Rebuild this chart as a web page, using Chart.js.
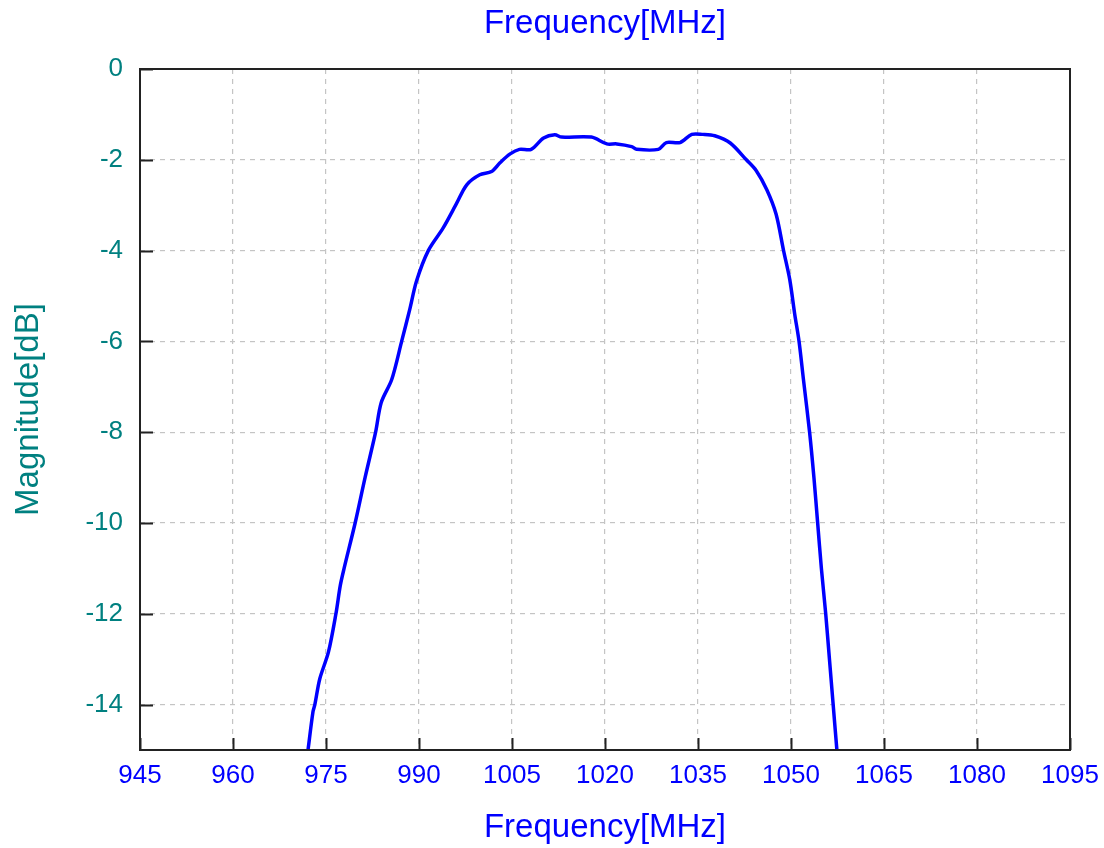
<!DOCTYPE html>
<html>
<head>
<meta charset="utf-8">
<title>Frequency response</title>
<script src="https://cdn.jsdelivr.net/npm/chart.js@4.4.1/dist/chart.umd.min.js"></script>
<style>
    html, body { margin: 0; padding: 0; background: #fff; }
    canvas { display: block; }
</style>
</head>
<body>
<canvas id="responseChart" width="1104" height="848"></canvas>
<script>
// values: frequency [MHz] and magnitude [dB]
const freqMHz = [
    972.1, 972.9, 973.2, 974.0, 975.4, 976.6, 977.3, 977.9, 979.7, 981.3,
    983.0, 983.9, 985.6, 987.2, 988.5, 989.6, 991.5, 993.9, 996.1, 997.7,
    999.8, 1001.7, 1003.1, 1004.7, 1006.2, 1008.1, 1010.1, 1011.9, 1013.0, 1017.8,
    1020.3, 1021.9, 1024.3, 1025.1, 1028.6, 1029.9, 1032.1, 1034.0, 1035.8, 1037.7,
    1040.2, 1042.8, 1044.4, 1046.1, 1047.6, 1048.8, 1049.8, 1050.6, 1051.3, 1052.0,
    1053.0, 1053.7, 1054.3, 1054.9, 1055.6, 1056.2, 1056.8, 1057.4
];
const magnitudeDb = [
    -15.0, -14.16, -14.0, -13.43, -12.84, -12.0, -11.38, -11.01, -10.0, -9.0,
    -8.0, -7.35, -6.84, -6.0, -5.3, -4.67, -4.0, -3.5, -2.95, -2.55,
    -2.33, -2.26, -2.06, -1.87, -1.77, -1.77, -1.52, -1.45, -1.50, -1.50,
    -1.65, -1.65, -1.71, -1.77, -1.77, -1.62, -1.62, -1.44, -1.44, -1.47,
    -1.63, -2.0, -2.24, -2.66, -3.2, -4.0, -4.64, -5.4, -6.0, -6.83,
    -8.0, -9.0, -10.0, -11.0, -12.0, -13.0, -14.0, -15.0
];
const xTicks = [945, 960, 975, 990, 1005, 1020, 1035, 1050, 1065, 1080, 1095];
const yTicks = [-14, -12, -10, -8, -6, -4, -2, 0];

const BLUE = '#0000ff';
const TEAL = '#008080';
const FONT = "'Liberation Sans', Arial, sans-serif";

// box round the plot plus the short inward tick marks
const frameTicks = {
    id: 'frameTicks',
    afterDatasetsDraw(chart) {
        const { ctx, chartArea: a, scales } = chart;
        ctx.save();
        ctx.strokeStyle = '#222';
        ctx.lineWidth = 2;
        ctx.beginPath();
        xTicks.forEach(v => {
            const px = Math.round(scales.x.getPixelForValue(v)) + 0.5;
            ctx.moveTo(px, a.bottom);
            ctx.lineTo(px, a.bottom - 12);
        });
        yTicks.forEach(v => {
            const py = Math.round(scales.y.getPixelForValue(v)) + 0.5;
            ctx.moveTo(a.left, py);
            ctx.lineTo(a.left + 13, py);
        });
        ctx.stroke();
        ctx.strokeRect(a.left, a.top, a.right - a.left, a.bottom - a.top);
        ctx.restore();
    }
};

const ctx = document.getElementById('responseChart');
new Chart(ctx, {
    type: 'line',
    data: {
        datasets: [{
            label: 'Magnitude',
            data: freqMHz.map((f, i) => ({ x: f, y: magnitudeDb[i] })),
            borderColor: BLUE,
            borderWidth: 3.5,
            pointRadius: 0,
            tension: 0.3,
            fill: false,
            clip: 0
        }]
    },
    options: {
        responsive: false,
        animation: false,
        events: [],
        layout: { padding: { left: 0, right: 34, top: 0, bottom: 0 } },
        plugins: {
            legend: { display: false },
            tooltip: { enabled: false },
            title: {
                display: true,
                text: 'Frequency[MHz]',
                color: BLUE,
                fullSize: false,
                font: { family: FONT, size: 33, weight: 'normal' },
                padding: { top: 4, bottom: 25.4 }
            }
        },
        scales: {
            x: {
                type: 'linear',
                min: 945,
                max: 1095,
                afterBuildTicks: s => { s.ticks = xTicks.map(v => ({ value: v })); },
                afterFit: s => { s.height = 98; s.paddingLeft = 0; s.paddingRight = 0; },
                border: { display: false, dash: [5, 5] },
                grid: { color: '#c4c4c4', lineWidth: 1.2, drawTicks: false },
                ticks: {
                    color: BLUE, padding: 10, maxRotation: 0,
                    font: { family: FONT, size: 26 },
                    callback: v => String(v)
                },
                title: {
                    display: true,
                    text: 'Frequency[MHz]',
                    color: BLUE,
                    font: { family: FONT, size: 33 },
                    padding: { top: 0, bottom: 0 }
                }
            },
            y: {
                type: 'linear',
                min: -15,
                max: 0,
                afterBuildTicks: s => { s.ticks = yTicks.map(v => ({ value: v })); },
                afterFit: s => { s.width = 140; s.paddingTop = 0; s.paddingBottom = 0; },
                border: { display: false, dash: [5, 5] },
                grid: { color: '#c4c4c4', lineWidth: 1.2, drawTicks: false },
                ticks: {
                    color: TEAL, padding: 17,
                    font: { family: FONT, size: 26 },
                    callback: v => String(v)
                },
                title: {
                    display: true,
                    text: 'Magnitude[dB]',
                    color: TEAL,
                    font: { family: FONT, size: 33 },
                    padding: { top: 9, bottom: 0 }
                }
            }
        }
    },
    plugins: [frameTicks]
});
</script>
</body>
</html>
